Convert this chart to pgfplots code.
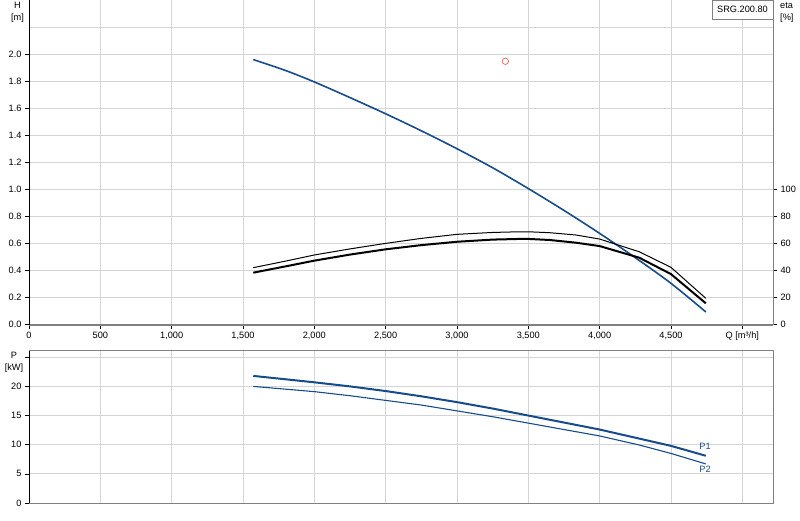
\documentclass[border=0pt]{standalone}
\usepackage{fontspec}
\setmainfont{Liberation Sans}
\usepackage{pgfplots}
\pgfplotsset{compat=1.18}
\definecolor{cblue}{RGB}{22,76,140}
\definecolor{cgrid}{RGB}{212,212,212}
\definecolor{cframe}{RGB}{128,128,128}
\definecolor{cred}{RGB}{240,90,90}

\begin{document}
\begin{tikzpicture}
\pgfplotsset{
  base/.style={
    scale only axis, width=744pt,
    xmin=0, xmax=5215,
    xtick={0,500,1000,1500,2000,2500,3000,3500,4000,4500,5000},
    grid=major, major grid style={cgrid, line width=1pt},
    axis line style={cframe, line width=1pt},
    tick style={black, line width=0.6pt},
    tick align=outside, major tick length=4pt,
    xtick pos=bottom, ytick pos=left,
    /pgf/number format/assume math mode=true,
    ticklabel style={font=\fontsize{9.2}{11}\selectfont},
    clip=false,
  },
}
% ---- top: head curve
\begin{axis}[base, at={(29pt,195.5pt)}, anchor=south west, height=324.5pt,
  ymin=0, ymax=2.404,
  ytick={0,0.2,0.4,0.6,0.8,1.0,1.2,1.4,1.6,1.8,2.0},
  yticklabels={0.0,0.2,0.4,0.6,0.8,1.0,1.2,1.4,1.6,1.8,2.0},
  extra y ticks={2.2}, extra y tick labels={},
  extra y tick style={major tick length=0pt},
  xticklabels={0,500,{1,000},{1,500},{2,000},{2,500},{3,000},{3,500},{4,000},{4,500},{Q [m³/h]}},
]
\addplot[cblue, line width=1.6pt, smooth] coordinates {
  (1572,1.963) (1800,1.881) (2000,1.797) (2250,1.681) (2500,1.561)
  (2750,1.435) (3000,1.302) (3250,1.161) (3500,1.007) (3750,0.845)
  (4000,0.675) (4250,0.495) (4500,0.305) (4744,0.093)
};
\addplot[only marks, mark=o, cred, mark size=3.2pt, mark options={line width=0.7pt}] coordinates {(3339,1.95)};
\draw[cframe, line width=2pt] (rel axis cs:0,0) -- (rel axis cs:1,0);
\draw[black, line width=0.8pt] (rel axis cs:0,0) -- (rel axis cs:0,1);
\end{axis}
% ---- top: efficiency curves (right axis)
\begin{axis}[scale only axis, width=744pt, height=324.5pt,
  at={(29pt,195.5pt)}, anchor=south west,
  xmin=0, xmax=5215, ymin=0, ymax=240.4,
  axis x line=none, axis y line*=right,
  axis line style={cframe, line width=1pt},
  ytick={0,20,40,60,80,100},
  tick style={black, line width=0.6pt},
  tick align=outside, major tick length=4pt,
  /pgf/number format/assume math mode=true,
  ticklabel style={font=\fontsize{9.2}{11}\selectfont},
]
\addplot[black, line width=1pt] coordinates {
  (1572,42.1) (1800,47.0) (2000,51.5) (2250,56.0) (2500,60.1) (2750,63.8)
  (3000,66.8) (3250,68.2) (3441,68.7) (3500,68.7) (3650,68.0) (3834,66.3)
  (4000,63.3) (4277,53.9) (4499,42.4) (4744,19.4)
};
\addplot[black, line width=2pt] coordinates {
  (1572,38.4) (1800,43.1) (2000,47.3) (2250,51.8) (2500,55.7) (2750,58.8)
  (3000,61.3) (3250,62.9) (3441,63.4) (3500,63.4) (3650,62.6) (3834,60.6)
  (4000,58.1) (4277,49.5) (4499,37.4) (4744,15.7)
};
\end{axis}
% ---- bottom: power
\begin{axis}[base, at={(29pt,17pt)}, anchor=south west, height=152pt,
  ymin=0, ymax=26.07,
  ytick={0,5,10,15,20,25}, yticklabels={0,5,10,15,20,{}},
  xticklabels={}, xtick style={draw=none},
]
\addplot[cblue, line width=2pt] coordinates {
  (1572,21.8) (2000,20.7) (2250,20.0) (2500,19.2) (2750,18.3) (3000,17.3)
  (3250,16.2) (3500,15.0) (3750,13.8) (4000,12.6) (4250,11.2) (4500,9.8) (4744,8.1)
};
\addplot[cblue, line width=1.1pt] coordinates {
  (1572,20.0) (2000,19.1) (2250,18.4) (2500,17.6) (2750,16.8) (3000,15.8)
  (3250,14.8) (3500,13.7) (3750,12.6) (4000,11.5) (4277,9.95) (4500,8.5) (4744,6.7)
};
\node[cblue, font=\fontsize{9.2}{11}\selectfont] at (axis cs:4739,9.66) {P1};
\node[cblue, font=\fontsize{9.2}{11}\selectfont] at (axis cs:4739,5.8) {P2};
\draw[black, line width=0.8pt] (rel axis cs:0,0) -- (rel axis cs:0,1);
\end{axis}
% ---- labels
\node[align=center, anchor=north, inner sep=0pt, font=\fontsize{9.2}{12}\selectfont] at (17.5pt,518pt) {H\\{[m]}};
\node[align=left, anchor=north west, inner sep=0pt, font=\fontsize{9.2}{12}\selectfont] at (780pt,518pt) {eta\\{[\%]}};
\node[align=center, anchor=north, inner sep=0pt, font=\fontsize{9.2}{12}\selectfont] at (14pt,168pt) {P\\{[kW]}};
\node[draw=cframe, fill=white, anchor=north east, minimum height=19pt, inner xsep=5pt,
  font=\fontsize{9.2}{11}\selectfont] at (773pt,520pt) {SRG.200.80};
\pgfresetboundingbox
\path[use as bounding box] (0pt,0pt) rectangle (800pt,520pt);
\end{tikzpicture}
\end{document}
